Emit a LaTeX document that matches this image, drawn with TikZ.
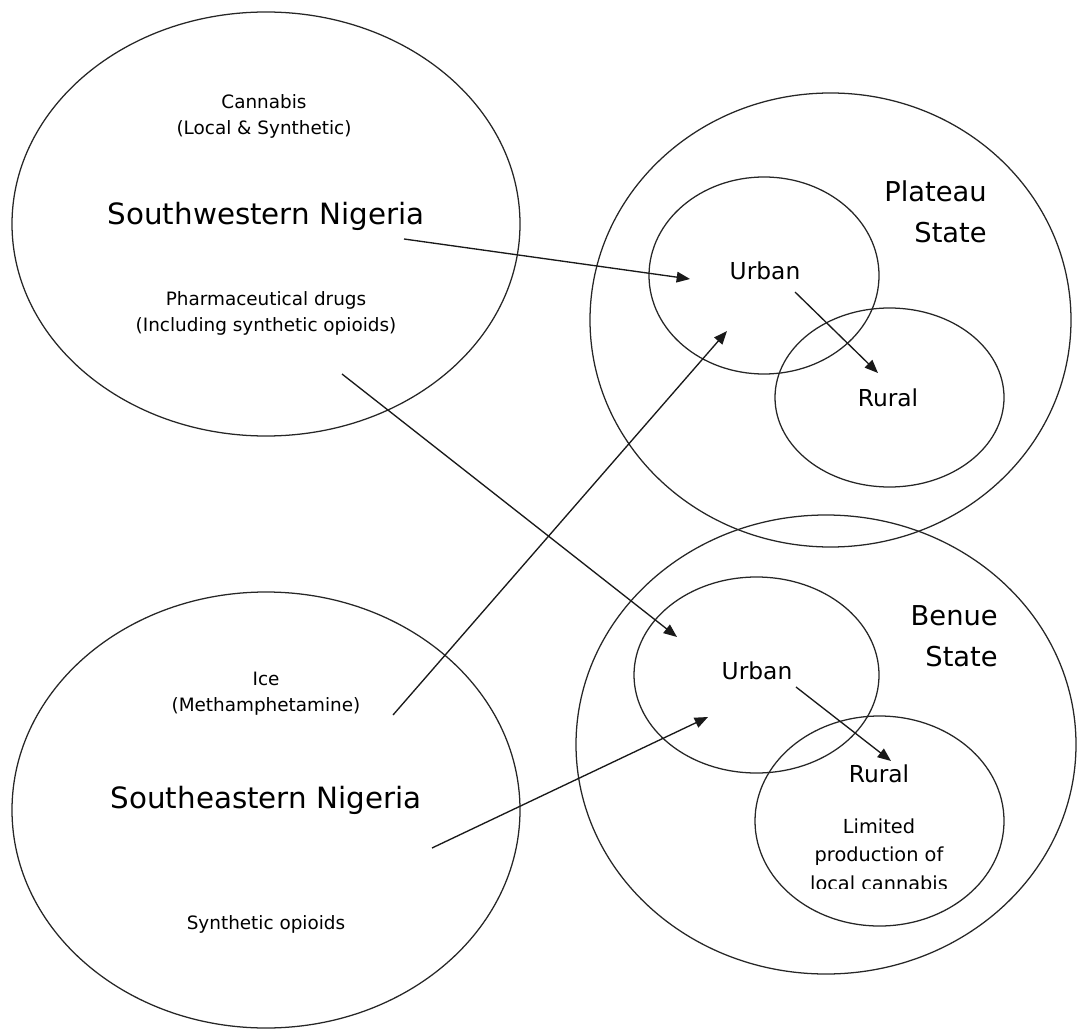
\documentclass[tikz,border=0pt]{standalone}
\usepackage{fontspec}
\setmainfont{DejaVu Sans}
\usetikzlibrary{arrows.meta}
\begin{document}
\begin{tikzpicture}[x=0.75pt,y=-0.75pt,
  ring/.style={line width=0.95pt, draw=black!85},
  conn/.style={line width=1pt, draw=black!90, -{Triangle[length=10pt,width=8pt]}},
  big/.style={font=\fontsize{22}{26}\selectfont, inner sep=0pt},
  state/.style={font=\fontsize{20.5}{31}\selectfont, inner sep=0pt, align=right},
  zone/.style={font=\fontsize{17.5}{20}\selectfont, inner sep=0pt},
  small/.style={font=\fontsize{13.8}{19.5}\selectfont, inner sep=0pt, align=center},
  note/.style={font=\fontsize{14.5}{21.5}\selectfont, inner sep=0pt}
]
\useasboundingbox (0,0) rectangle (1077,1030);

% regions
\draw[ring] (266,224) ellipse [x radius=254, y radius=212];
\draw[ring] (266,810) ellipse [x radius=254, y radius=218];
\draw[ring] (830.5,320) ellipse [x radius=240.5, y radius=227];
\draw[ring] (764,275.5) ellipse [x radius=115, y radius=98.5];
\draw[ring] (889.5,397.5) ellipse [x radius=114.5, y radius=89.5];
\draw[ring] (826,744.5) ellipse [x radius=250, y radius=229.5];
\draw[ring] (756.5,675) ellipse [x radius=122.5, y radius=98];
\draw[ring] (879.5,821) ellipse [x radius=124.5, y radius=105];

% Southwestern Nigeria
\node[small] (cann) at (264,116) {Cannabis\\(Local \& Synthetic)};
\node[big] (sw) at (266,216) {Southwestern Nigeria};
\node[small] (pharm) at (266,313) {Pharmaceutical drugs\\(Including synthetic opioids)};

% Southeastern Nigeria
\node[small] (ice) at (266,694) {Ice\\(Methamphetamine)};
\node[big] (se) at (266,800) {Southeastern Nigeria};
\node[small] (synop) at (266,924) {Synthetic opioids};

% Plateau State
\node[state, anchor=east] (plat) at (987,212) {Plateau\\State};
\node[zone] (purb) at (765,271) {Urban};
\node[zone] (prur) at (888,398) {Rural};

% Benue State
\node[state, anchor=east] (ben) at (998,636) {Benue\\State};
\node[zone] (burb) at (757,671) {Urban};
\node[zone] (brur) at (879,774) {Rural};
\node[note, anchor=base] (lim1) at (879,833) {Limited};
\node[note, anchor=base] (lim2) at (879,861) {production of};
\begin{scope}
  \clip (780,870) rectangle (980,888);
  \node[note, anchor=base] (lim3) at (879,890) {local cannabis};
\end{scope}

% connector end points
\coordinate (a1s) at (404,239);  \coordinate (a1e) at (690,279);
\coordinate (a2s) at (342,374);  \coordinate (a2e) at (677,637);
\coordinate (a3s) at (393,715);  \coordinate (a3e) at (727,331);
\coordinate (a4s) at (432,848);  \coordinate (a4e) at (708,717);
\coordinate (a5s) at (795,292);  \coordinate (a5e) at (878,373);
\coordinate (a6s) at (796,687);  \coordinate (a6e) at (891,761);

\draw[conn] (a1s) -- (a1e);
\draw[conn] (a2s) -- (a2e);
\draw[conn] (a3s) -- (a3e);
\draw[conn] (a4s) -- (a4e);
\draw[conn] (a5s) -- (a5e);
\draw[conn] (a6s) -- (a6e);
\end{tikzpicture}
\end{document}
